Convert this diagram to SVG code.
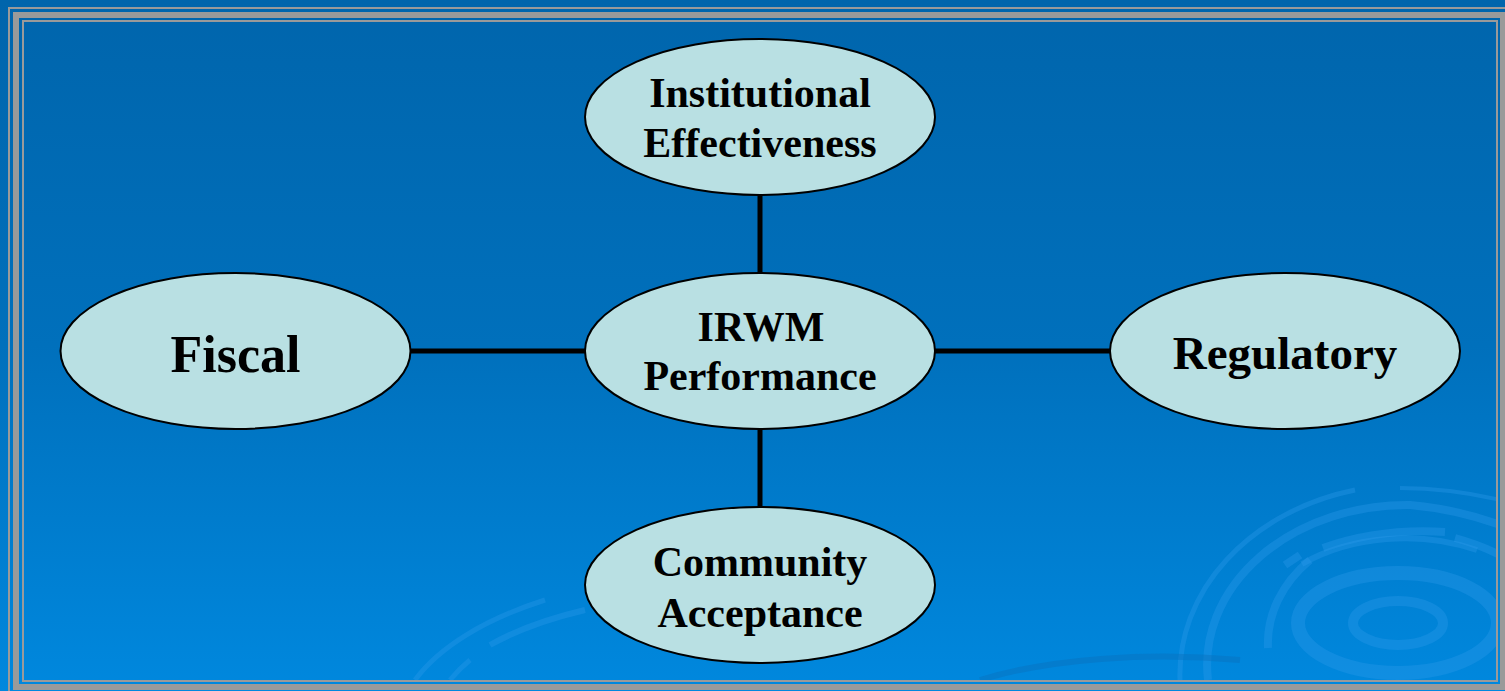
<svg xmlns="http://www.w3.org/2000/svg" width="1505" height="691" viewBox="0 0 1505 691">
  <defs>
    <linearGradient id="bg" x1="0" y1="0" x2="0" y2="1">
      <stop offset="0" stop-color="#0065AC"/>
      <stop offset="0.5" stop-color="#0070BC"/>
      <stop offset="1" stop-color="#0088DE"/>
    </linearGradient>
    <clipPath id="inner"><rect x="24" y="22" width="1472" height="658"/></clipPath>
  </defs>
  <style>
    .node ellipse { fill: #B9E0E3; stroke: #000; stroke-width: 2; }
    .node text { font-family: "Liberation Serif", "Times New Roman", serif; font-weight: bold; fill: #000; text-anchor: middle; }
    .connectors line { stroke: #000; stroke-width: 5; }
    .ring { fill: none; stroke: #2E9BEA; opacity: 0.35; }
    .frame { fill: none; stroke: #9A9A9A; }
  </style>

  <rect x="0" y="0" width="1505" height="691" fill="url(#bg)"/>

  <g id="swirls" clip-path="url(#inner)">
    <ellipse class="ring" cx="1398" cy="623" rx="45" ry="22" stroke-width="10"/>
    <ellipse class="ring" cx="1398" cy="623" rx="100" ry="50" stroke-width="14"/>
    <path class="ring" d="M1268 648 A150 120 0 0 1 1310 560" stroke-width="8"/>
    <path class="ring" d="M1302 564 A160 110 0 0 1 1477 550" stroke-width="6"/>
    <path class="ring" d="M1300 555 L1285 565" stroke-width="8"/>
    <path class="ring" d="M1323 548 A200 120 0 0 1 1445 532" stroke-width="8"/>
    <path class="ring" d="M1455 538 A200 120 0 0 1 1500 555" stroke-width="8"/>
    <path class="ring" d="M1208 680 A200 160 0 0 1 1410 505 A250 160 0 0 1 1500 525" stroke-width="8"/>
    <path class="ring" d="M1180 680 A230 190 0 0 1 1355 490" stroke-width="5"/>
    <path class="ring" d="M1400 488 A300 200 0 0 1 1500 500" stroke-width="4"/>
    <path class="ring" d="M415 680 A330 160 0 0 1 545 600" stroke-width="5"/>
    <path class="ring" d="M490 645 A300 130 0 0 1 585 610" stroke-width="6"/>
    <path class="ring" d="M450 680 A250 140 0 0 1 470 660" stroke-width="5"/>
    <path d="M980 680 A260 80 0 0 1 1240 660" fill="none" stroke="#0A6DB8" stroke-width="6" opacity="0.4"/>
  </g>

  <g id="frame">
    <rect class="frame" x="9" y="8" width="1510" height="700" stroke-width="2"/>
    <rect class="frame" x="16" y="15" width="1487" height="672" stroke-width="6"/>
    <rect class="frame" x="23" y="21" width="1474" height="660" stroke-width="2"/>
  </g>

  <g class="connectors" id="connectors">
    <line x1="760" y1="195" x2="760" y2="273"/>
    <line x1="760" y1="429" x2="760" y2="507"/>
    <line x1="411" y1="351" x2="585" y2="351"/>
    <line x1="935" y1="351" x2="1110" y2="351"/>
  </g>

  <g class="node" id="institutional">
    <ellipse cx="760" cy="117" rx="175" ry="78"/>
    <text x="760" y="107" font-size="42">Institutional</text>
    <text x="760" y="157" font-size="42">Effectiveness</text>
  </g>
  <g class="node" id="irwm">
    <ellipse cx="760" cy="351" rx="175" ry="78"/>
    <text x="761" y="341" font-size="42">IRWM</text>
    <text x="760" y="390" font-size="42">Performance</text>
  </g>
  <g class="node" id="fiscal">
    <ellipse cx="235.5" cy="351" rx="175" ry="78"/>
    <text x="235.5" y="372" font-size="52">Fiscal</text>
  </g>
  <g class="node" id="regulatory">
    <ellipse cx="1285" cy="351" rx="175" ry="78"/>
    <text x="1285" y="369" font-size="47">Regulatory</text>
  </g>
  <g class="node" id="community">
    <ellipse cx="760" cy="585" rx="175" ry="78"/>
    <text x="760" y="576" font-size="42">Community</text>
    <text x="760" y="627" font-size="42">Acceptance</text>
  </g>
</svg>
